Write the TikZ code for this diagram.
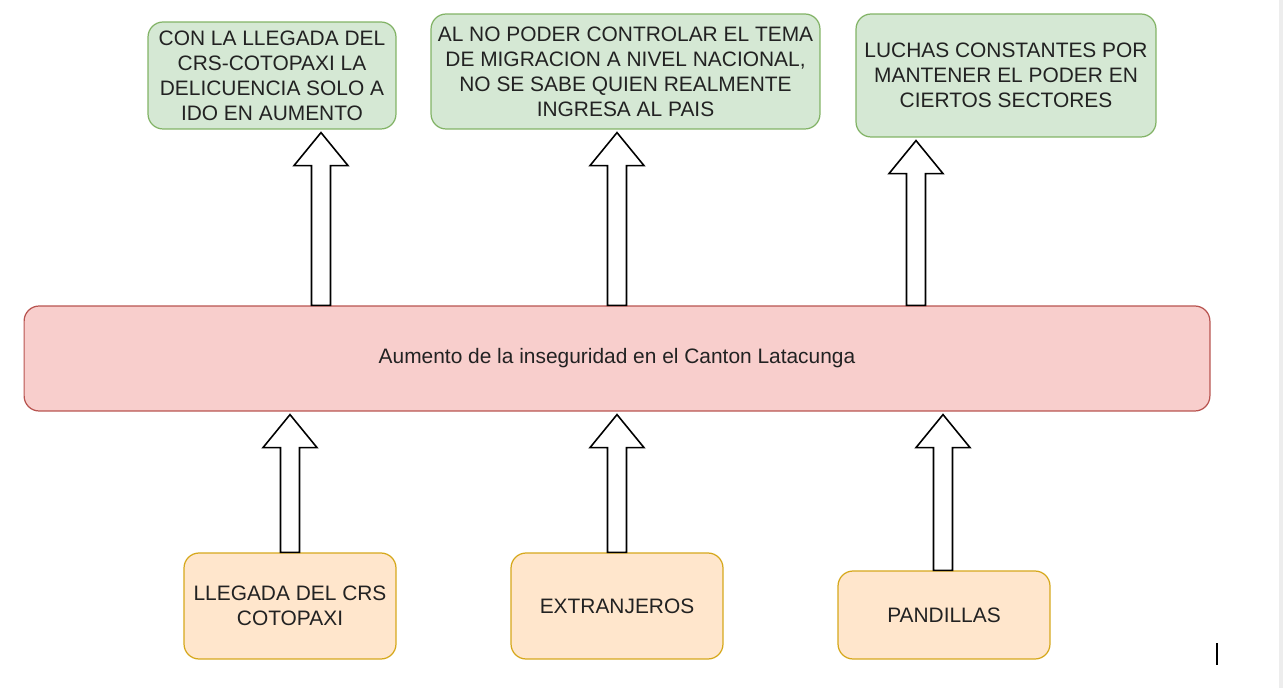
\documentclass[tikz,border=0pt]{standalone}
\usepackage{fontspec}
\setmainfont{Liberation Sans}
\usepackage{xcolor}
\usetikzlibrary{calc}

\definecolor{greenfill}{HTML}{D5E8D4}
\definecolor{greenline}{HTML}{82B366}
\definecolor{redfill}{HTML}{F8CECC}
\definecolor{redline}{HTML}{B85450}
\definecolor{orangefill}{HTML}{FFE6CC}
\definecolor{orangeline}{HTML}{D6A81C}
\definecolor{textgray}{HTML}{222222}

\begin{document}
\begin{tikzpicture}[
    x=0.02cm, y=-0.02cm,
    box/.style={rectangle, rounded corners=0.3cm, line width=0.7pt, inner sep=0pt,
                align=center, text=textgray, font=\fontsize{11.9}{14.2}\selectfont},
    effect/.style={box, fill=greenfill, draw=greenline},
    cause/.style={box, fill=orangefill, draw=orangeline, minimum width=4.24cm},
    flex/.style={draw=black, fill=white, line width=0.9pt, line join=miter,
      to path={let \p1=(\tikztostart), \p2=(\tikztotarget) in
        (\x1-0.19cm,\y1) -- (\x1-0.19cm,\y2-0.72cm) -- (\x1-0.54cm,\y2-0.72cm)
        -- (\x1,\y2-0.06cm) -- (\x1+0.54cm,\y2-0.72cm) -- (\x1+0.19cm,\y2-0.72cm)
        -- (\x1+0.19cm,\y1) -- cycle}}
]
\useasboundingbox (0,0) rectangle (1283,688);

% Effects
\node[effect, minimum width=4.96cm, minimum height=2.14cm] (crs) at (272,75.5) {
    CON LA LLEGADA DEL\\
    CRS-COTOPAXI LA\\
    DELICUENCIA SOLO A\\
    IDO EN AUMENTO};
\node[effect, minimum width=7.78cm, minimum height=2.3cm] (migracion) at (625.5,71.5) {
    AL NO PODER CONTROLAR EL TEMA\\
    DE MIGRACION A NIVEL NACIONAL,\\
    NO SE SABE QUIEN REALMENTE\\
    INGRESA AL PAIS};
\node[effect, minimum width=6cm, minimum height=2.46cm] (luchas) at (1006,75.5) {
    LUCHAS CONSTANTES POR\\
    MANTENER EL PODER EN\\
    CIERTOS SECTORES};

% Problem
\node[box, fill=redfill, draw=redline, minimum width=23.72cm, minimum height=2.1cm]
    (problema) at (617,358.5) {Aumento de la inseguridad en el Canton Latacunga};

% Causes
\node[cause, minimum height=2.12cm] (llegada) at (290,606) {LLEGADA DEL CRS\\COTOPAXI};
\node[cause, minimum height=2.12cm] (extranjeros) at (617,606) {EXTRANJEROS};
\node[cause, minimum height=1.76cm] (pandillas) at (944,615) {PANDILLAS};

% Arrow lines
\coordinate (xa) at (321,0);
\coordinate (xb) at (617,0);
\coordinate (xc) at (916,0);
\coordinate (xd) at (290,0);
\coordinate (xe) at (617,0);
\coordinate (xf) at (943,0);

% Problem to effects
\draw[flex] (xa |- problema.north) to (xa |- crs.south);
\draw[flex] (xb |- problema.north) to (xb |- migracion.south);
\draw[flex] (xc |- problema.north) to (xc |- luchas.south);

% Causes to problem
\draw[flex] (xd |- llegada.north) to (xd |- problema.south);
\draw[flex] (xe |- extranjeros.north) to (xe |- problema.south);
\draw[flex] (xf |- pandillas.north) to (xf |- problema.south);

% Edge of window and cursor
\fill[black!7] (1279,0) rectangle (1283,688);
\draw[line width=1.1pt] (1217,643) -- (1217,665);

\end{tikzpicture}
\end{document}
